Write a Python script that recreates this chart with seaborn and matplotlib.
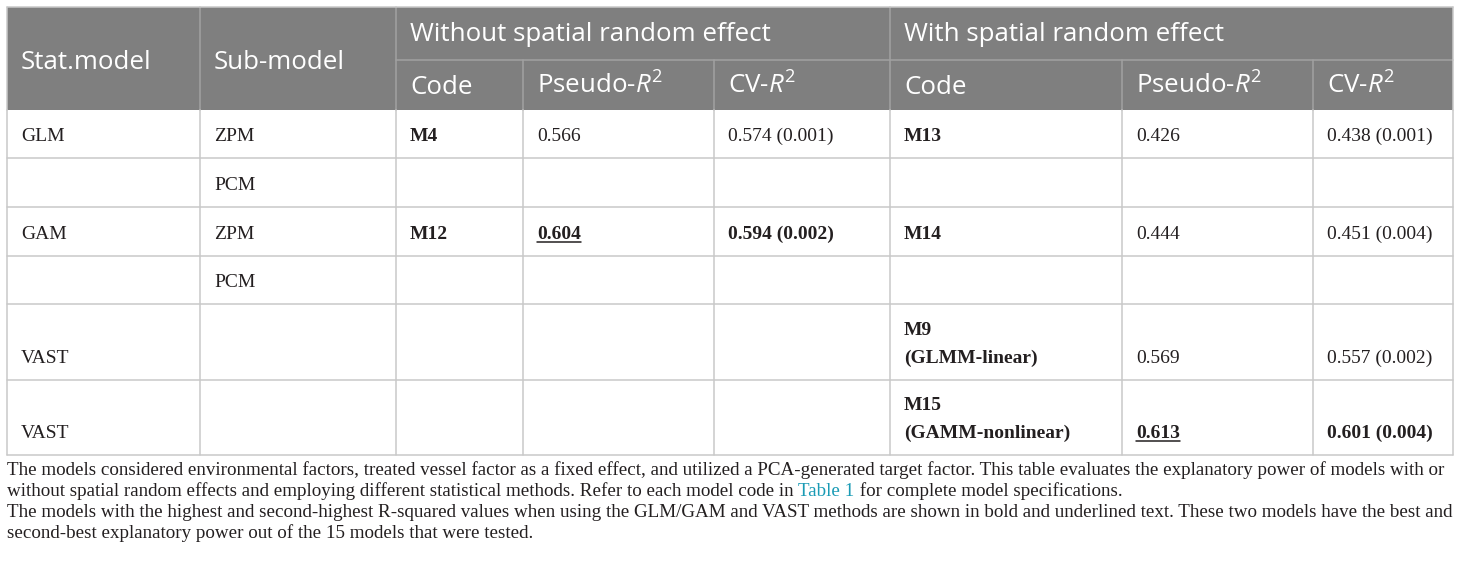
import matplotlib
matplotlib.use("Agg")
import matplotlib.pyplot as plt
import seaborn as sns

# table content
stat_models = ["GLM", "", "GAM", "", "VAST", "VAST"]
sub_models = ["ZPM", "PCM", "ZPM", "PCM", "", ""]
code_fixed = ["M4", "", "M12", "", "", ""]
pseudo_fixed = ["0.566", "", "0.604", "", "", ""]
cv_fixed = ["0.574 (0.001)", "", "0.594 (0.002)", "", "", ""]
code_spatial = ["M13", "", "M14", "", "M9\n(GLMM-linear)", "M15\n(GAMM-nonlinear)"]
pseudo_spatial = ["0.426", "", "0.444", "", "0.569", "0.613"]
cv_spatial = ["0.438 (0.001)", "", "0.451 (0.004)", "", "0.557 (0.002)", "0.601 (0.004)"]

group_headers = ["Without spatial random effect", "With spatial random effect"]
sub_headers = ["Code", r"Pseudo-$\mathit{R}^2$", r"CV-$\mathit{R}^2$"]
bold_values = {"0.604", "0.594 (0.002)", "0.613", "0.601 (0.004)"}
underlined_values = {"0.604", "0.613"}

caption_lines = [
    [("The models considered environmental factors, treated vessel factor as a fixed effect, and utilized a "
      "PCA-generated target factor. This table evaluates the explanatory power of models with or", "#231f20")],
    [("without spatial random effects and employing different statistical methods. Refer to each model code in ",
      "#231f20"), ("Table 1", "#1a9bb5"), (" for complete model specifications.", "#231f20")],
    [("The models with the highest and second-highest R-squared values when using the GLM/GAM and VAST "
      "methods are shown in bold and underlined text. These two models have the best and", "#231f20")],
    [("second-best explanatory power out of the 15 models that were tested.", "#231f20")],
]

# layout (pixels)
W, H = 1460, 567
col_x = [7, 200, 396, 523, 714, 890, 1122, 1313, 1453]
row_y = [110, 158, 207, 256, 304, 380, 455]
head_top, head_mid = 7, 60
pad = 14
header_gray = "#7f7f7f"
grid_gray = "#c9c9c9"
head_line = "#a2a2a2"

sns.set_theme(style="white")
plt.rcParams["mathtext.fontset"] = "custom"
plt.rcParams["mathtext.rm"] = "Open Sans"
plt.rcParams["mathtext.it"] = "Open Sans:italic"

fig = plt.figure(figsize=(W / 100, H / 100), dpi=100)
ax = fig.add_axes([0, 0, 1, 1])
ax.set_xlim(0, W)
ax.set_ylim(H, 0)
ax.axis("off")

# header background
ax.fill_between([col_x[0], col_x[-1]], head_top, row_y[0], color=header_gray, lw=0)

lw = 1.1
# header inner lines
for x in [col_x[1], col_x[2], col_x[5]]:
    ax.plot([x, x], [head_top, row_y[0]], color=head_line, lw=lw)
for x in [col_x[3], col_x[4], col_x[6], col_x[7]]:
    ax.plot([x, x], [head_mid, row_y[0]], color=head_line, lw=lw)
ax.plot([col_x[2], col_x[-1]], [head_mid, head_mid], color=head_line, lw=lw)

# body grid
for x in col_x:
    ax.plot([x, x], [row_y[0], row_y[-1]], color=grid_gray, lw=lw)
for y in row_y[1:]:
    ax.plot([col_x[0], col_x[-1]], [y, y], color=grid_gray, lw=lw)
ax.plot([col_x[0], col_x[-1]], [head_top, head_top], color=grid_gray, lw=lw)
ax.plot([col_x[0], col_x[0]], [head_top, row_y[0]], color=grid_gray, lw=lw)
ax.plot([col_x[-1], col_x[-1]], [head_top, row_y[0]], color=grid_gray, lw=lw)

hfont = dict(family="Open Sans", fontsize=18.6, color="white")
ax.text(col_x[0] + pad, 69, "Stat.model", **hfont)
ax.text(col_x[1] + pad, 69, "Sub-model", **hfont)
ax.text(col_x[2] + pad, 41, group_headers[0], **hfont)
ax.text(col_x[5] + pad, 41, group_headers[1], **hfont)
for i, lab in enumerate(sub_headers):
    ax.text(col_x[2 + i] + pad, 94, lab, **hfont)
    ax.text(col_x[5 + i] + pad, 94, lab, **hfont)

body_font = dict(family="Liberation Serif", fontsize=14, color="#231f20")
columns = [stat_models, sub_models, code_fixed, pseudo_fixed, cv_fixed,
           code_spatial, pseudo_spatial, cv_spatial]
underline_texts = []
for c, values in enumerate(columns):
    for r, val in enumerate(values):
        if not val:
            continue
        base = row_y[r + 1] - 17
        lines = val.split("\n")
        bold = c in (2, 5) or val in bold_values
        for k, line in enumerate(lines):
            y = base - 28 * (len(lines) - 1 - k)
            t = ax.text(col_x[c] + pad, y, line, fontweight="bold" if bold else "normal", **body_font)
            if val in underlined_values:
                underline_texts.append((t, y))

fig.canvas.draw()
renderer = fig.canvas.get_renderer()
for t, y in underline_texts:
    bb = t.get_window_extent(renderer)
    ax.plot([bb.x0, bb.x1], [y + 3, y + 3], color="#231f20", lw=1.1)

# caption, sized so the first line fills the table width
cap_size = 14
probe = ax.text(0, 0, caption_lines[0][0][0], family="Liberation Serif", fontsize=cap_size)
wpx = probe.get_window_extent(renderer).width
probe.remove()
cap_size = cap_size * (col_x[-1] - col_x[0] - 2) / wpx

cap_base = [475, 496, 517, 538]
for line, yb in zip(caption_lines, cap_base):
    x = col_x[0]
    for seg, color in line:
        t = ax.text(x, yb, seg, family="Liberation Serif", fontsize=cap_size, color=color)
        x += t.get_window_extent(renderer).width

fig.savefig("out.png", dpi=100)
